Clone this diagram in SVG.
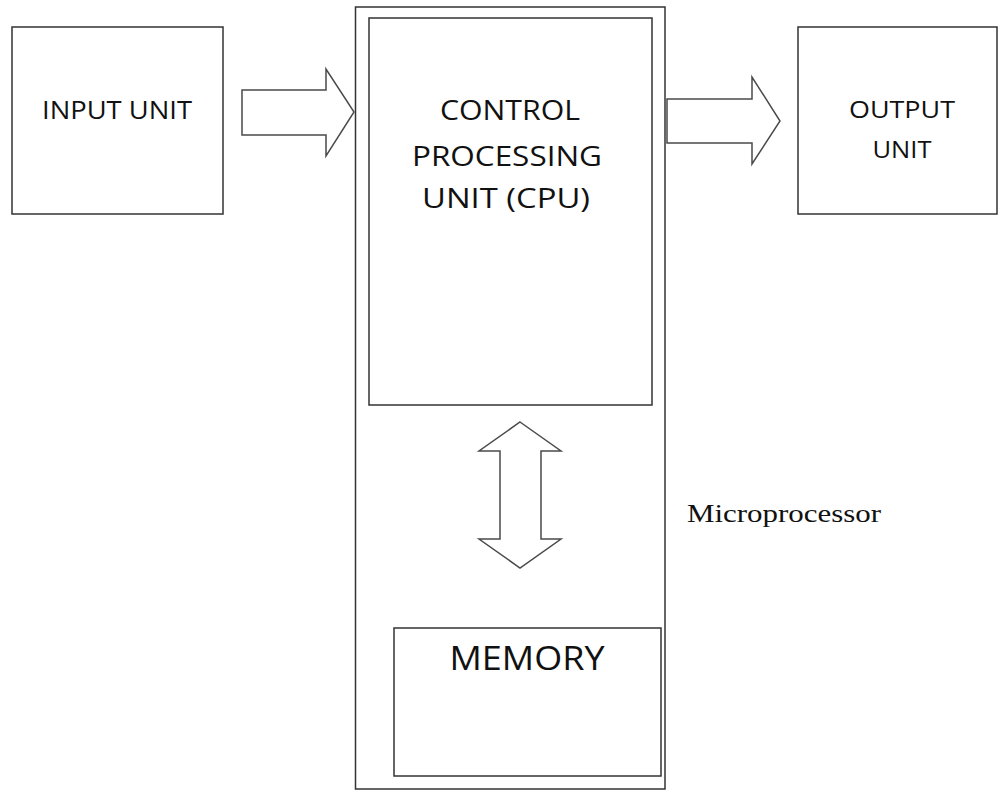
<svg xmlns="http://www.w3.org/2000/svg" width="998" height="791" viewBox="0 0 998 791">
<style>
.box{fill:#fff;stroke:#333;stroke-width:1.5}
.arrow{fill:#fff;stroke:#4a4a4a;stroke-width:1.5;stroke-linejoin:miter}
.lbl{font-family:"Open Sans","Liberation Sans",sans-serif;fill:#111;text-anchor:middle}
.serif{font-family:"Liberation Serif","Times New Roman",serif;fill:#111}
</style>
<rect width="998" height="791" fill="#fff"/>
<g id="microprocessor">
<rect class="box" x="355.5" y="7" width="309.5" height="782"/>
<text class="serif" x="687" y="522" font-size="26" textLength="194" lengthAdjust="spacingAndGlyphs">Microprocessor</text>
</g>
<g id="input-unit">
<rect class="box" x="12" y="27" width="211" height="187"/>
<text class="lbl" x="117" y="119" font-size="26" textLength="150" lengthAdjust="spacingAndGlyphs">INPUT UNIT</text>
</g>
<g id="cpu">
<rect class="box" x="369" y="18" width="283" height="387"/>
<text class="lbl" x="510" y="120" font-size="28" textLength="140" lengthAdjust="spacingAndGlyphs">CONTROL</text>
<text class="lbl" x="507" y="166" font-size="28" textLength="190" lengthAdjust="spacingAndGlyphs">PROCESSING</text>
<text class="lbl" x="506" y="208" font-size="28" textLength="168" lengthAdjust="spacingAndGlyphs">UNIT (CPU)</text>
</g>
<g id="output-unit">
<rect class="box" x="798" y="27" width="199" height="187"/>
<text class="lbl" x="902" y="118" font-size="24" textLength="106" lengthAdjust="spacingAndGlyphs">OUTPUT</text>
<text class="lbl" x="902" y="158" font-size="24" textLength="59" lengthAdjust="spacingAndGlyphs">UNIT</text>
</g>
<g id="memory">
<rect class="box" x="394" y="628" width="267" height="148"/>
<text class="lbl" x="527" y="670" font-size="32" textLength="155" lengthAdjust="spacingAndGlyphs">MEMORY</text>
</g>
<g id="connectors">
<polygon class="arrow" points="242,90 326,90 326,69 354,112 326,156 326,135 242,135"/>
<polygon class="arrow" points="667,99 752,99 752,77 780,121 752,164 752,143 667,143"/>
<polygon class="arrow" points="520,422 561,451 541,451 541,539 561,539 520,568 479,539 500,539 500,451 479,451"/>
</g>
</svg>
